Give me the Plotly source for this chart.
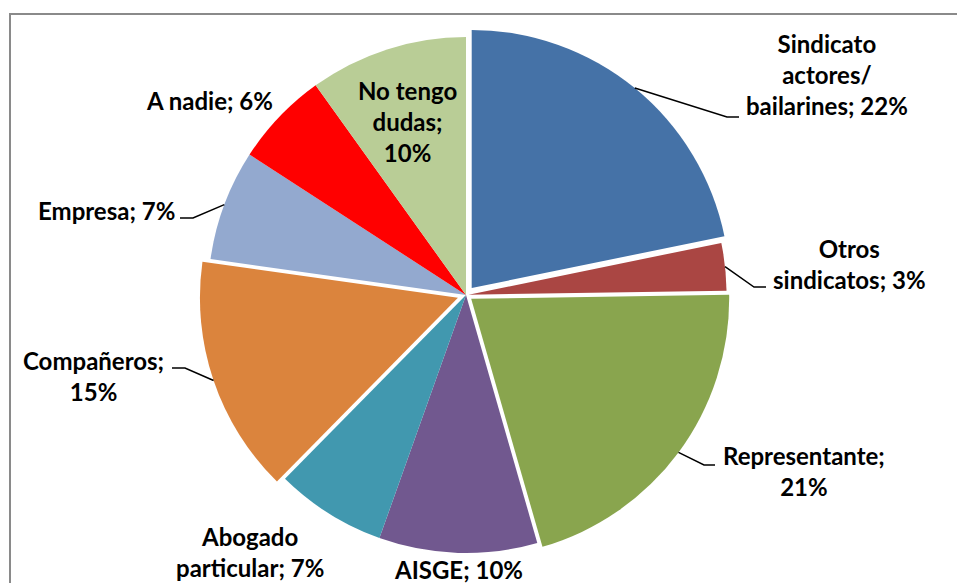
import math
import plotly.graph_objects as go

# ---- data ----
categories = ["Sindicato actores/ bailarines", "Otros sindicatos", "Representante", "AISGE",
              "Abogado particular", "Compañeros", "Empresa", "A nadie", "No tengo dudas"]
values = [22, 3, 21, 10, 7, 15, 7, 6, 10]
label_texts = ["Sindicato<br>actores/<br>bailarines; 22%", "Otros<br>sindicatos; 3%",
               "Representante;<br>21%", "AISGE; 10%", "Abogado<br>particular; 7%",
               "Compañeros;<br>15%", "Empresa; 7%", "A nadie; 6%", "No tengo<br>dudas;<br>10%"]

# ---- style / layout ----
colors = ["#4572A7", "#AA4643", "#89A54E", "#71588F", "#4198AF",
          "#DB843D", "#93A9CF", "#FF0000", "#B9CD96"]
pulls = [0.035, 0.01, 0.025, 0, 0, 0.033, 0, 0, 0]
W, H = 957, 583
CX, CY, R = 466, 295, 258
FONT = "Lato"
FS = 24
# label block centres (px)
label_pos = [(827, 74), (849, 264), (804, 471), (458, 569), (250, 552),
             (93, 376), (106, 210), (209, 100), (407, 122)]
# leader attach point (px) and horizontal elbow length
leaders = {0: (739, 117, -12), 1: (766, 287, -12), 2: (715, 465, -11),
           5: (172, 368, 13), 6: (180, 218, 13)}


def px(x):
    return x / W


def py(y):
    return 1 - y / H


maxpull = max(pulls)
half = R * (1 + maxpull)

fig = go.Figure(go.Pie(
    labels=categories, values=values, sort=False, direction="clockwise", rotation=0,
    marker=dict(colors=colors, line=dict(width=0)), pull=pulls,
    textinfo="none", hoverinfo="label+percent", showlegend=False,
    domain=dict(x=[px(CX - half), px(CX + half)], y=[py(CY + half), py(CY - half)]),
))

total = sum(values)
cum = 0
shapes = []
annotations = []
for i, v in enumerate(values):
    mid = (cum + v / 2) / total * 2 * math.pi
    cum += v
    x, y = label_pos[i]
    annotations.append(dict(
        x=px(x), y=py(y), xref="paper", yref="paper", text="<b>" + label_texts[i] + "</b>",
        showarrow=False, xanchor="center", yanchor="middle", align="center",
        font=dict(family=FONT, size=FS, color="black")))
    if i in leaders:
        ax, ay, dx = leaders[i]
        r = R * (1 + pulls[i])
        sx = CX + r * math.sin(mid)
        sy = CY - r * math.cos(mid)
        ex = ax + dx
        shapes.append(dict(type="path", xref="paper", yref="paper",
                           path=f"M {px(sx)},{py(sy)} L {px(ex)},{py(ay)} L {px(ax)},{py(ay)}",
                           line=dict(color="black", width=1.5)))

# chart frame
shapes.append(dict(type="rect", xref="paper", yref="paper", x0=px(10), y0=-0.05,
                   x1=1.05, y1=py(14), line=dict(color="#8A8A8A", width=2), layer="below"))

fig.update_layout(width=W, height=H, margin=dict(l=0, r=0, t=0, b=0),
                  paper_bgcolor="white", plot_bgcolor="white",
                  shapes=shapes, annotations=annotations)

fig.write_html("out.html", config={"displayModeBar": False},
               post_script="document.body.style.margin='0';")
